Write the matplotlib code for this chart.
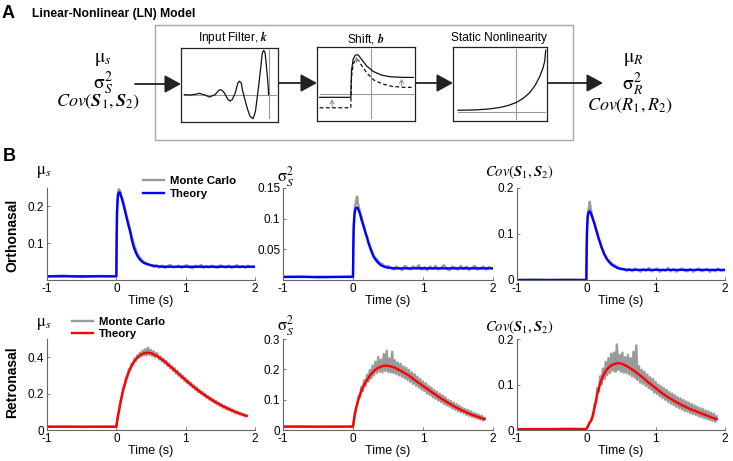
import numpy as np
import matplotlib
matplotlib.use('Agg')
import matplotlib.pyplot as plt
from matplotlib.patches import Rectangle

plt.rcParams['font.family'] = ['Liberation Sans', 'DejaVu Sans']
plt.rcParams['mathtext.fontset'] = 'stix'
plt.rcParams['axes.unicode_minus'] = False

W, H = 733, 461

# ---- panel A sketches (box-fraction coords) ----
filter_u = [0.034, 0.093, 0.145, 0.190, 0.238, 0.293, 0.352, 0.386, 0.403, 0.421, 0.445, 0.486,
            0.507, 0.528, 0.559, 0.586, 0.603, 0.621, 0.634, 0.679, 0.707, 0.721, 0.741, 0.755,
            0.769, 0.800, 0.824, 0.838, 0.852, 0.866, 0.876, 0.897, 0.903]
filter_v = [0.369, 0.365, 0.374, 0.387, 0.369, 0.338, 0.369, 0.423, 0.437, 0.428, 0.396, 0.302,
            0.284, 0.302, 0.392, 0.527, 0.550, 0.527, 0.428, 0.203, 0.090, 0.068, 0.045, 0.086,
            0.158, 0.482, 0.761, 0.932, 0.968, 0.941, 0.820, 0.518, 0.369]

shift_u = [0.027, 0.345, 0.352, 0.369, 0.392, 0.420, 0.454, 0.505, 0.573, 0.659, 0.744, 0.881, 0.983]
shift_solid = [0.32, 0.32, 0.68, 0.835, 0.893, 0.893, 0.835, 0.746, 0.67, 0.62, 0.598, 0.589, 0.589]
shift_u2 = [0.027, 0.345, 0.352, 0.369, 0.396, 0.423, 0.457, 0.512, 0.580, 0.669, 0.761, 0.881, 0.983]
shift_dash = [0.179, 0.179, 0.589, 0.768, 0.835, 0.821, 0.746, 0.643, 0.554, 0.50, 0.469, 0.455, 0.455]

nl_u = [0.053, 0.248, 0.390, 0.496, 0.585, 0.674, 0.745, 0.816, 0.876, 0.922, 0.957, 0.975, 0.986]
nl_v = [0.145, 0.150, 0.164, 0.182, 0.209, 0.250, 0.305, 0.382, 0.486, 0.600, 0.714, 0.805, 0.955]

# ---- panel B data ----
t_th_ortho = [-1.0, 0.0, 0.005, 0.01, 0.02, 0.03, 0.04, 0.05, 0.06, 0.07, 0.08, 0.10, 0.12, 0.14,
              0.16, 0.18, 0.20, 0.22, 0.24, 0.26, 0.28, 0.30, 0.33, 0.36, 0.40, 0.45, 0.50, 0.60,
              0.70, 0.85, 1.0, 1.5, 2.0]
mu_th_ortho = [0.010, 0.010, 0.12, 0.185, 0.222, 0.235, 0.238, 0.237, 0.233, 0.227, 0.221, 0.207,
               0.192, 0.176, 0.160, 0.145, 0.131, 0.112, 0.097, 0.085, 0.075, 0.067, 0.058, 0.052,
               0.046, 0.043, 0.040, 0.037, 0.036, 0.036, 0.036, 0.036, 0.036]
var_th_ortho = [0.005, 0.005, 0.06, 0.085, 0.105, 0.113, 0.117, 0.118, 0.118, 0.117, 0.114, 0.108,
                0.099, 0.092, 0.084, 0.076, 0.069, 0.061, 0.054, 0.048, 0.042, 0.037, 0.032, 0.028,
                0.024, 0.0215, 0.020, 0.019, 0.019, 0.019, 0.019, 0.019, 0.019]
cov_th_ortho = [0.0, 0.0, 0.07, 0.11, 0.138, 0.146, 0.149, 0.149, 0.147, 0.143, 0.139, 0.130,
                0.120, 0.110, 0.099, 0.089, 0.080, 0.071, 0.063, 0.056, 0.050, 0.045, 0.039, 0.034,
                0.030, 0.026, 0.024, 0.022, 0.022, 0.022, 0.022, 0.022, 0.022]

t_mc_ortho = [-1.0, -0.75, -0.5, -0.25, -0.01,
              0.0, 0.01, 0.02, 0.03, 0.04, 0.05, 0.06, 0.07, 0.08, 0.10, 0.12, 0.14, 0.16, 0.18,
              0.20, 0.22, 0.24, 0.26, 0.28, 0.30,
              0.34, 0.38, 0.42, 0.46, 0.50, 0.54, 0.58, 0.62, 0.66, 0.70, 0.74, 0.78, 0.82, 0.86,
              0.90, 0.94, 0.98, 1.02, 1.06, 1.10, 1.14, 1.18, 1.22, 1.26, 1.30, 1.34, 1.38, 1.42,
              1.46, 1.50, 1.54, 1.58, 1.62, 1.66, 1.70, 1.74, 1.78, 1.82, 1.86, 1.90, 1.94, 1.98]
mu_mc_ortho = [0.010, 0.012, 0.008, 0.011, 0.010,
               0.012, 0.185, 0.232, 0.244, 0.247, 0.238, 0.240, 0.228, 0.226, 0.212, 0.196, 0.180,
               0.166, 0.151, 0.136, 0.120, 0.107, 0.093, 0.084, 0.072,
               0.061, 0.051, 0.047, 0.041, 0.041, 0.036, 0.040, 0.034, 0.039, 0.033, 0.038, 0.041,
               0.034, 0.036, 0.039, 0.033, 0.038, 0.040, 0.034, 0.032, 0.039, 0.035, 0.041, 0.033,
               0.038, 0.034, 0.039, 0.035, 0.033, 0.040, 0.037, 0.034, 0.039, 0.033, 0.036, 0.040,
               0.034, 0.038, 0.033, 0.039, 0.035, 0.037]
var_mc_ortho = [0.005, 0.006, 0.004, 0.005, 0.006,
                0.006, 0.088, 0.110, 0.121, 0.126, 0.133, 0.136, 0.124, 0.121, 0.110, 0.104, 0.093,
                0.088, 0.077, 0.072, 0.062, 0.057, 0.049, 0.045, 0.038,
                0.034, 0.028, 0.026, 0.022, 0.023, 0.020, 0.017, 0.022, 0.019, 0.016, 0.023, 0.020,
                0.017, 0.022, 0.019, 0.024, 0.017, 0.021, 0.016, 0.022, 0.018, 0.023, 0.017, 0.020,
                0.024, 0.018, 0.016, 0.022, 0.020, 0.017, 0.023, 0.018, 0.022, 0.016, 0.020, 0.023,
                0.017, 0.019, 0.022, 0.017, 0.021, 0.019]
cov_mc_ortho = [0.000, 0.001, 0.000, 0.001, 0.000,
                0.001, 0.105, 0.140, 0.152, 0.160, 0.170, 0.158, 0.150, 0.142, 0.131, 0.124, 0.110,
                0.103, 0.089, 0.083, 0.070, 0.065, 0.055, 0.051, 0.044,
                0.040, 0.034, 0.031, 0.027, 0.025, 0.024, 0.020, 0.024, 0.019, 0.025, 0.022, 0.018,
                0.024, 0.020, 0.026, 0.019, 0.022, 0.025, 0.018, 0.022, 0.020, 0.026, 0.019, 0.024,
                0.018, 0.022, 0.025, 0.020, 0.019, 0.024, 0.018, 0.022, 0.025, 0.019, 0.021, 0.024,
                0.018, 0.022, 0.019, 0.025, 0.020, 0.021]

t_th_retro = [-1.0, 0.0, 0.02, 0.05, 0.08, 0.12, 0.16, 0.20, 0.25, 0.30, 0.35, 0.40, 0.45, 0.50,
              0.55, 0.60, 0.70, 0.80, 0.90, 1.00, 1.10, 1.20, 1.30, 1.40, 1.50, 1.60, 1.70, 1.80, 1.88]
mu_th_retro = [0.018, 0.018, 0.07, 0.13, 0.19, 0.25, 0.30, 0.338, 0.372, 0.397, 0.413, 0.422, 0.425,
               0.422, 0.414, 0.403, 0.375, 0.342, 0.308, 0.274, 0.242, 0.212, 0.185, 0.160, 0.138,
               0.119, 0.102, 0.087, 0.077]
var_th_retro = [0.011, 0.011, 0.045, 0.078, 0.103, 0.130, 0.150, 0.165, 0.182, 0.195, 0.204, 0.209,
                0.212, 0.212, 0.209, 0.205, 0.193, 0.179, 0.162, 0.145, 0.129, 0.113, 0.098, 0.084,
                0.071, 0.060, 0.050, 0.042, 0.036]
cov_th_retro = [0.002, 0.002, 0.008, 0.016, 0.024, 0.050, 0.080, 0.103, 0.122, 0.134, 0.141, 0.145,
                0.147, 0.146, 0.143, 0.139, 0.129, 0.117, 0.104, 0.092, 0.080, 0.070, 0.061, 0.053,
                0.046, 0.040, 0.034, 0.028, 0.024]

t_mc_retro = [-1.0, -0.75, -0.5, -0.25, -0.01,
              0.00, 0.02, 0.04, 0.06, 0.08, 0.10, 0.12, 0.14, 0.16, 0.18, 0.20, 0.22, 0.24, 0.26,
              0.28, 0.30, 0.32, 0.34, 0.36, 0.38, 0.40, 0.42, 0.44, 0.46, 0.48, 0.50, 0.52, 0.54,
              0.56, 0.58, 0.60, 0.62, 0.64, 0.66, 0.68, 0.70, 0.72, 0.74, 0.76, 0.78, 0.80, 0.82,
              0.84, 0.86, 0.88, 0.90, 0.92, 0.94, 0.96, 0.98, 1.00, 1.02, 1.04, 1.06, 1.08, 1.10,
              1.12, 1.14, 1.16, 1.18, 1.20, 1.22, 1.24, 1.26, 1.28, 1.30, 1.32, 1.34, 1.36, 1.38,
              1.40, 1.42, 1.44, 1.46, 1.48, 1.50, 1.52, 1.54, 1.56, 1.58, 1.60, 1.62, 1.64, 1.66,
              1.68, 1.70, 1.72, 1.74, 1.76, 1.78, 1.80, 1.82, 1.84, 1.86, 1.88]
mu_mc_retro = [0.018, 0.019, 0.017, 0.018, 0.019,
               0.020, 0.075, 0.104, 0.158, 0.180, 0.232, 0.240, 0.288, 0.292, 0.334, 0.328, 0.364,
               0.358, 0.392, 0.380, 0.410, 0.396, 0.425, 0.404, 0.437, 0.410, 0.445, 0.412, 0.452,
               0.413, 0.440, 0.406, 0.432, 0.400, 0.422,
               0.412, 0.388, 0.402, 0.377, 0.391, 0.365, 0.379, 0.352, 0.366, 0.338, 0.352, 0.325,
               0.340, 0.311, 0.326, 0.298, 0.311, 0.284, 0.298, 0.271, 0.284, 0.259, 0.271, 0.246,
               0.258, 0.233, 0.245, 0.221, 0.233, 0.209, 0.221, 0.199, 0.210, 0.188, 0.199, 0.177,
               0.188, 0.167, 0.178, 0.158, 0.168, 0.149, 0.159, 0.140, 0.150, 0.131, 0.141, 0.123,
               0.133, 0.116, 0.126, 0.109, 0.119, 0.103, 0.112, 0.096, 0.105, 0.090, 0.099, 0.085,
               0.093, 0.080, 0.088, 0.075, 0.080]
var_mc_retro = [0.011, 0.012, 0.010, 0.011, 0.012,
                0.012, 0.040, 0.072, 0.081, 0.112, 0.108, 0.142, 0.128, 0.164, 0.145, 0.182, 0.160,
                0.198, 0.170, 0.212, 0.180, 0.225, 0.188, 0.240, 0.192, 0.232, 0.190, 0.250, 0.195,
                0.262, 0.192, 0.236, 0.190, 0.258, 0.188, 0.230, 0.184, 0.222, 0.180, 0.218, 0.175,
                0.210, 0.170, 0.205, 0.165, 0.198, 0.158, 0.190, 0.152, 0.184, 0.146, 0.176, 0.140,
                0.168, 0.133, 0.160, 0.128, 0.154, 0.120, 0.146, 0.115, 0.140, 0.108, 0.132, 0.103,
                0.126, 0.097, 0.120, 0.092, 0.114, 0.086, 0.108, 0.081, 0.100, 0.077, 0.095, 0.071,
                0.090, 0.067, 0.085, 0.062, 0.080, 0.058, 0.074, 0.055, 0.070, 0.050, 0.066, 0.047,
                0.062, 0.043, 0.057, 0.040, 0.054, 0.037, 0.050, 0.034, 0.047, 0.031, 0.040]
cov_mc_retro = [0.002, 0.001, 0.002, 0.003, 0.002,
                0.003, 0.006, 0.016, 0.018, 0.028, 0.032, 0.058, 0.060, 0.092, 0.084, 0.118, 0.100,
                0.135, 0.112, 0.150, 0.120, 0.158, 0.125, 0.168, 0.130, 0.170, 0.128, 0.188, 0.132,
                0.165, 0.128, 0.170, 0.126, 0.160, 0.125, 0.165, 0.122, 0.158, 0.118, 0.172, 0.115,
                0.186, 0.110, 0.140, 0.104, 0.132, 0.101, 0.128, 0.097, 0.122, 0.092, 0.116, 0.088,
                0.112, 0.082, 0.106, 0.079, 0.100, 0.074, 0.096, 0.070, 0.092, 0.066, 0.088, 0.062,
                0.083, 0.058, 0.080, 0.055, 0.076, 0.051, 0.072, 0.048, 0.069, 0.045, 0.066, 0.042,
                0.063, 0.040, 0.060, 0.037, 0.057, 0.035, 0.054, 0.033, 0.051, 0.030, 0.048, 0.028,
                0.046, 0.026, 0.043, 0.024, 0.041, 0.022, 0.038, 0.020, 0.036, 0.018, 0.030]

x_ticks = [-1, 0, 1, 2]
GRAY = '#9a9a9a'
AXC = '#666666'


def px_axes(fig, x0, y0, x1, y1):
    return fig.add_axes([x0 / W, 1 - y1 / H, (x1 - x0) / W, (y1 - y0) / H])


def box_axes(fig, x0, y0, x1, y1):
    ax = px_axes(fig, x0, y0, x1, y1)
    ax.set_xlim(0, 1)
    ax.set_ylim(0, 1)
    ax.set_xticks([])
    ax.set_yticks([])
    for s in ax.spines.values():
        s.set_linewidth(0.9)
        s.set_color('#222222')
    return ax


def ts_panel(fig, box, t_mc, mc, t_th, th, color, ylim, yticks, ylabels):
    ax = px_axes(fig, *box)
    mc_line, = ax.plot(t_mc, mc, color=GRAY, lw=1.7)
    th_line, = ax.plot(t_th, th, color=color, lw=1.7)
    ax.set_xlim(-1, 2)
    ax.set_ylim(*ylim)
    ax.set_xticks(x_ticks)
    ax.set_xticklabels([str(v) for v in x_ticks])
    ax.set_yticks(yticks)
    ax.set_yticklabels(ylabels)
    ax.spines['top'].set_visible(False)
    ax.spines['right'].set_visible(False)
    for s in ('left', 'bottom'):
        ax.spines[s].set_color(AXC)
        ax.spines[s].set_linewidth(0.8)
    ax.tick_params(direction='in', length=2.5, width=0.6, color=AXC, labelsize=8.5, pad=2)
    ax.set_xlabel('Time (s)', fontsize=9, labelpad=0.5)
    return ax, mc_line, th_line


def main():
    fig = plt.figure(figsize=(W / 100, H / 100), dpi=100)

    # overlay in pixel coordinates for panel A frame, arrows and labels
    ov = fig.add_axes([0, 0, 1, 1])
    ov.set_xlim(0, W)
    ov.set_ylim(H, 0)
    ov.axis('off')

    ov.text(8, 14, 'A', fontsize=13, fontweight='bold', ha='center', va='center')
    ov.text(32, 14, 'Linear-Nonlinear (LN) Model', fontsize=8.7, fontweight='bold', va='center')
    ov.text(9, 156, 'B', fontsize=13, fontweight='bold', ha='center', va='center')

    ov.add_patch(Rectangle((155, 25), 418, 115, fill=False, ec='#a8a8a8', lw=1.0))

    arrows = [(135, 84, 181, 84), (278, 83, 317, 83), (415, 83, 453, 83), (547, 83, 603, 83)]
    for x0, y0, x1, y1 in arrows:
        ov.annotate('', xy=(x1, y1), xytext=(x0, y0),
                    arrowprops=dict(arrowstyle='-|>,head_length=0.55,head_width=0.3',
                                    color='#222222', lw=1.3, mutation_scale=18,
                                    shrinkA=0, shrinkB=0))

    ov.text(233, 38, 'Input Filter, $\\mathbfit{k}$', fontsize=8.6, ha='center', va='center')
    ov.text(366, 38, 'Shift, $\\mathbfit{b}$', fontsize=8.6, ha='center', va='center')
    ov.text(499, 38, 'Static Nonlinearity', fontsize=8.6, ha='center', va='center')

    ov.text(103, 60, '$\\mathrm{\\mu}_{s}$', fontsize=14, ha='center', va='center')
    ov.text(103, 83, '$\\mathrm{\\sigma}_{S}^{2}$', fontsize=14, ha='center', va='center')
    ov.text(98, 102, '$Cov(\\mathbfit{S}_{1},\\mathbfit{S}_{2})$', fontsize=13, ha='center', va='center')
    ov.text(633, 59, '$\\mathrm{\\mu}_{R}$', fontsize=14, ha='center', va='center')
    ov.text(633, 84, '$\\mathrm{\\sigma}_{R}^{2}$', fontsize=14, ha='center', va='center')
    ov.text(630, 106, '$Cov(R_{1},R_{2})$', fontsize=13, ha='center', va='center')

    # input filter box
    a1 = box_axes(fig, 181, 48, 278, 122)
    a1.plot([0.03, 0.98], [0.369, 0.369], color='#999999', lw=0.8)
    a1.plot([0.903, 0.903], [0.05, 0.97], color='#999999', lw=0.8)
    a1.plot(filter_u, filter_v, color='#111111', lw=0.9)

    # shift box
    a2 = box_axes(fig, 317, 47, 415, 121)
    a2.plot([0.027, 0.983], [0.366, 0.366], color='#999999', lw=0.8)
    a2.plot([0.55, 0.55], [0.04, 0.97], color='#999999', lw=0.8)
    a2.plot(shift_u, shift_solid, color='#111111', lw=0.9)
    a2.plot(shift_u2, shift_dash, color='#111111', lw=0.9, ls=(0, (3, 2)))
    for ux, vy0, vy1 in [(0.154, 0.196, 0.29), (0.863, 0.478, 0.567), (0.403, 0.79, 0.87)]:
        a2.annotate('', xy=(ux, vy1), xytext=(ux, vy0),
                    arrowprops=dict(arrowstyle='->,head_length=0.25,head_width=0.15',
                                    color='#888888', lw=0.7, shrinkA=0, shrinkB=0))

    # static nonlinearity box
    a3 = box_axes(fig, 453, 47, 547, 121)
    a3.plot([0.05, 0.98], [0.123, 0.123], color='#999999', lw=0.8)
    a3.plot([0.667, 0.667], [0.03, 0.97], color='#999999', lw=0.8)
    a3.plot(nl_u, nl_v, color='#111111', lw=0.9)

    # panel B
    top = (188, 280)
    bot = (339, 430)
    cols = [(47, 255), (283, 493), (517, 725)]

    ax, mc, th = ts_panel(fig, (cols[0][0], top[0], cols[0][1], top[1]), t_mc_ortho, mu_mc_ortho,
                          t_th_ortho, mu_th_ortho, '#0000ff', (0, 0.25), [0.1, 0.2], ['0.1', '0.2'])
    ax.legend([mc, th], ['Monte Carlo', 'Theory'], loc='upper left',
              bbox_to_anchor=(143 / W, 1 - 176 / H), bbox_transform=fig.transFigure,
              frameon=False, prop=dict(weight='bold', size=8.2), handlelength=1.8,
              handletextpad=0.6, borderpad=0, borderaxespad=0, labelspacing=0.25)
    ts_panel(fig, (cols[1][0], top[0], cols[1][1], top[1]), t_mc_ortho, var_mc_ortho,
             t_th_ortho, var_th_ortho, '#0000ff', (0, 0.15), [0.05, 0.1, 0.15], ['0.05', '0.1', '0.15'])
    ts_panel(fig, (cols[2][0], top[0], cols[2][1], top[1]), t_mc_ortho, cov_mc_ortho,
             t_th_ortho, cov_th_ortho, '#0000ff', (0, 0.2), [0, 0.1, 0.2], ['0', '0.1', '0.2'])

    ax, mc, th = ts_panel(fig, (cols[0][0], bot[0], cols[0][1], bot[1]), t_mc_retro, mu_mc_retro,
                          t_th_retro, mu_th_retro, '#ff0000', (0, 0.5), [0, 0.2, 0.4], ['0', '0.2', '0.4'])
    ax.legend([mc, th], ['Monte Carlo', 'Theory'], loc='upper left',
              bbox_to_anchor=(72 / W, 1 - 317 / H), bbox_transform=fig.transFigure,
              frameon=False, prop=dict(weight='bold', size=8.2), handlelength=1.8,
              handletextpad=0.6, borderpad=0, borderaxespad=0, labelspacing=0.2)
    ts_panel(fig, (cols[1][0], bot[0], cols[1][1], bot[1]), t_mc_retro, var_mc_retro,
             t_th_retro, var_th_retro, '#ff0000', (0, 0.3), [0, 0.1, 0.2, 0.3], ['0', '0.1', '0.2', '0.3'])
    ts_panel(fig, (cols[2][0], bot[0], cols[2][1], bot[1]), t_mc_retro, cov_mc_retro,
             t_th_retro, cov_th_retro, '#ff0000', (0, 0.2), [0, 0.1, 0.2], ['0', '0.1', '0.2'])

    # variable names above each axis
    names = ['$\\mathrm{\\mu}_{s}$', '$\\mathrm{\\sigma}_{S}^{2}$',
             '$Cov(\\mathbfit{S}_{1},\\mathbfit{S}_{2})$']
    xs = [44, 286, 519]
    for name, x, yt, yb in zip(names, xs, [172, 177, 172], [324, 326, 327]):
        fs = 12 if 'Cov' not in name else 10.5
        fig.text(x / W, 1 - yt / H, name, fontsize=fs, ha='center', va='center')
        fig.text(x / W, 1 - yb / H, name, fontsize=fs, ha='center', va='center')

    fig.text(12.5 / W, 1 - 235 / H, 'Orthonasal', rotation=90, fontsize=10, fontweight='bold',
             ha='center', va='center')
    fig.text(12.5 / W, 1 - 382 / H, 'Retronasal', rotation=90, fontsize=10, fontweight='bold',
             ha='center', va='center')

    fig.savefig('out.png', dpi=100)


if __name__ == '__main__':
    main()
